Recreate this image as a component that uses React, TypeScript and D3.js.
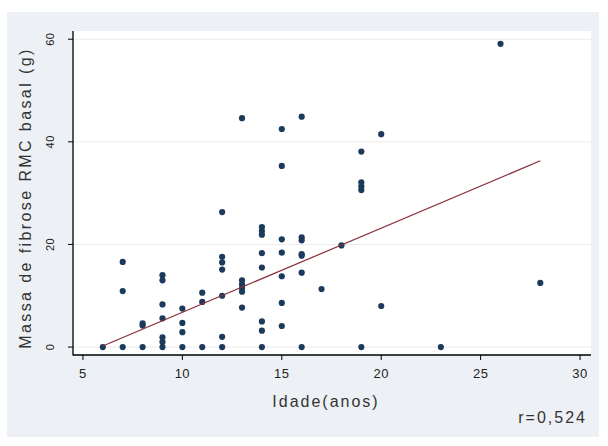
import React from 'react';
import * as d3 from 'd3';

// age (years) and fibrosis mass (g)
const ages = [
  6,
  7, 7, 7,
  8, 8, 8,
  9, 9, 9, 9, 9, 9, 9,
  10, 10, 10, 10,
  11, 11, 11,
  12, 12, 12, 12, 12, 12, 12,
  13, 13, 13, 13, 13, 13,
  14, 14, 14, 14, 14, 14, 14, 14,
  15, 15, 15, 15, 15, 15, 15,
  16, 16, 16, 16, 16, 16, 16,
  17, 18,
  19, 19, 19, 19, 19,
  20, 20,
  23, 26, 28,
];
const masses = [
  0,
  16.6, 10.9, 0,
  4.6, 4.2, 0,
  14.0, 13.0, 8.3, 5.6, 1.9, 1.0, 0,
  7.5, 4.7, 2.9, 0,
  10.6, 8.8, 0,
  26.3, 17.6, 16.5, 15.1, 10.0, 2.0, 0,
  44.6, 13.0, 12.2, 11.5, 10.8, 7.7,
  23.4, 22.6, 21.9, 18.3, 15.5, 5.0, 3.2, 0,
  42.5, 35.3, 21.0, 18.4, 13.8, 8.6, 4.1,
  44.9, 21.4, 20.8, 18.1, 17.8, 14.5, 0,
  11.3, 19.8,
  38.1, 32.1, 31.3, 30.6, 0,
  41.5, 8.0,
  0, 59.1, 12.5,
];

// fitted line end points (age, mass)
const fitX = [6, 28];
const fitY = [0.2, 36.3];

const xTicks = [5, 10, 15, 20, 25, 30];
const yTicks = [0, 20, 40, 60];

const W = 608;
const H = 446;
const plot = { left: 73, right: 591, top: 31, bottom: 355 };

const App = () => {
  const x = d3.scaleLinear().domain([4.5, 30.5]).range([plot.left, plot.right - 1]);
  const y = d3.scaleLinear().domain([-1.55, 61.6]).range([plot.bottom, plot.top]);
  const line = d3.line<number>().x((_, i) => x(fitX[i])).y((d) => y(d));
  const font = 'Liberation Sans, Arial, sans-serif';

  return (
    <svg
      width={W}
      height={H}
      style={{ position: 'absolute', left: 0, top: 0, background: '#ffffff' }}
      fontFamily={font}
    >
      <rect x={7} y={12} width={592} height={425} fill="#edf1f6" />
      <rect x={plot.left} y={plot.top} width={plot.right - plot.left} height={plot.bottom - plot.top} fill="#ffffff" />

      {yTicks.map((t) => (
        <line key={'g' + t} x1={plot.left} x2={plot.right} y1={y(t)} y2={y(t)} stroke="#ececec" strokeWidth={1} />
      ))}

      {ages.map((a, i) => (
        <circle key={i} cx={x(a)} cy={y(masses[i])} r={3.1} fill="#1c3b5a" />
      ))}

      <path d={line(fitY) || ''} fill="none" stroke="#8a2f3a" strokeWidth={1.2} />

      {/* axes */}
      <line x1={plot.left} x2={plot.left} y1={plot.top} y2={plot.bottom + 0.5} stroke="#000" strokeWidth={1.3} />
      <line x1={plot.left} x2={plot.right} y1={plot.bottom} y2={plot.bottom} stroke="#000" strokeWidth={1.3} />

      {xTicks.map((t) => (
        <g key={'x' + t} transform={`translate(${x(t)},${plot.bottom})`}>
          <line y1={0} y2={5} stroke="#000" />
          <text y={23} textAnchor="middle" fontSize={13} letterSpacing={0.5} fill="#222">{t}</text>
        </g>
      ))}
      {yTicks.map((t) => (
        <g key={'y' + t} transform={`translate(${plot.left},${y(t)})`}>
          <line x1={0} x2={-5} stroke="#000" />
          <text transform="translate(-23,0) rotate(-90)" textAnchor="middle" dy="0.35em" fontSize={11} letterSpacing={0.5} fill="#222">{t}</text>
        </g>
      ))}

      <text x={326} y={407} textAnchor="middle" fontSize={16} letterSpacing={2} fill="#333">Idade(anos)</text>
      <text transform="translate(31,198) rotate(-90)" textAnchor="middle" fontSize={16} letterSpacing={2.4} fill="#333">
        Massa de fibrose RMC basal  (g)
      </text>
      <text x={587} y={423} textAnchor="end" fontSize={16} letterSpacing={2} fill="#333">r=0,524</text>
    </svg>
  );
};

export default App;
